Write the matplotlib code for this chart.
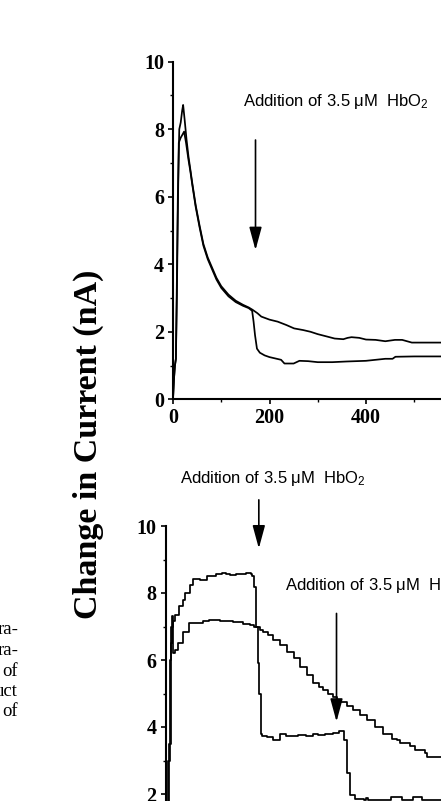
import matplotlib
matplotlib.use("Agg")
import matplotlib.pyplot as plt
from matplotlib.ticker import MultipleLocator

plt.rcParams["mathtext.fontset"] = "custom"
plt.rcParams["mathtext.rm"] = "Liberation Sans"
plt.rcParams["mathtext.it"] = "Liberation Sans:italic"

# ---- data (time in s, change in current in nA) ----
top_t1 = [0, 2, 4, 6, 8, 10, 13, 16, 19, 21, 24, 28, 32, 36, 40, 47, 55, 63, 72, 81,
          90, 100, 115, 130, 145, 157, 165, 175, 183, 200, 217, 235, 251, 270, 285, 300,
          319, 335, 353, 362, 370, 386, 400, 420, 440, 460, 475, 485, 495, 520, 560]
top_i1 = [0, 0.6, 1.0, 1.2, 3.5, 6.0, 8.0, 8.2, 8.55, 8.72, 8.3, 7.7, 7.2, 6.8, 6.4, 5.75, 5.15, 4.6, 4.2, 3.9,
          3.6, 3.35, 3.1, 2.92, 2.8, 2.72, 2.65, 2.55, 2.45, 2.36, 2.3, 2.2, 2.1, 2.05, 2.0, 1.93,
          1.86, 1.8, 1.78, 1.82, 1.84, 1.82, 1.77, 1.76, 1.72, 1.76, 1.76, 1.72, 1.68, 1.68, 1.68]

top_t2 = [0, 2, 4, 6, 8, 10, 12, 16, 20, 23, 27, 32, 36, 40, 47, 55, 63, 72, 81, 90,
          100, 115, 130, 145, 157, 164, 167, 170, 174, 180, 190, 200, 215, 224, 231, 250, 262, 280, 300, 330,
          360, 400, 440, 455, 461, 500, 560]
top_i2 = [0, 0.6, 1.0, 1.2, 3.0, 5.5, 7.6, 7.75, 7.85, 7.93, 7.6, 7.1, 6.75, 6.35, 5.7, 5.1, 4.55, 4.15, 3.85, 3.55,
          3.3, 3.05, 2.88, 2.77, 2.7, 2.62, 2.3, 1.9, 1.5, 1.38, 1.3, 1.25, 1.2, 1.17, 1.06, 1.06, 1.14, 1.13, 1.1, 1.1,
          1.12, 1.14, 1.2, 1.2, 1.26, 1.27, 1.27]

bot_t1 = [2, 4, 8, 12, 16, 20, 27, 35, 41, 50, 57, 71, 85, 92, 104, 116, 125, 134, 145, 155,
          166, 176, 179, 182, 187, 191, 194, 197, 200, 210, 222, 230, 236, 240, 250, 262, 275, 290, 305, 315,
          330, 347, 360, 366, 369, 375, 382, 392, 410, 416, 420, 440, 463, 466, 486, 489, 510, 513, 528, 531,
          580]
bot_i1 = [0, 3.0, 6.0, 7.0, 7.15, 7.35, 7.6, 7.8, 8.0, 8.25, 8.41, 8.39, 8.5, 8.51, 8.56, 8.61, 8.56, 8.54, 8.58, 8.57,
          8.6, 8.57, 8.5, 8.19, 6.99, 5.9, 5.0, 3.8, 3.74, 3.69, 3.6, 3.62, 3.8, 3.78, 3.74, 3.72, 3.76, 3.74, 3.78, 3.75,
          3.78, 3.83, 3.88, 3.88, 3.6, 2.62, 1.97, 1.84, 1.82, 1.87, 1.82, 1.81, 1.81, 1.9, 1.9, 1.81, 1.81, 1.9, 1.9, 1.81,
          1.81]

bot_t2 = [3, 6, 10, 13, 15, 20, 25, 35, 49, 77, 90, 112, 140, 160, 175, 182, 196, 202, 212, 223,
          237, 251, 265, 278, 292, 306, 317, 327, 337, 347, 354, 361, 375, 389, 403, 417, 434, 451, 468, 479,
          486, 507, 517, 537, 541, 580]
bot_i2 = [0, 3.5, 6.5, 7.3, 6.2, 6.3, 6.5, 6.85, 7.1, 7.15, 7.2, 7.17, 7.12, 7.08, 7.05, 7.0, 6.9, 6.85, 6.75, 6.6,
          6.45, 6.25, 6.05, 5.8, 5.55, 5.3, 5.2, 5.1, 5.0, 4.9, 4.82, 4.76, 4.62, 4.5, 4.35, 4.2, 4.0, 3.8, 3.65, 3.61,
          3.51, 3.43, 3.31, 3.23, 3.11, 3.1]

label_txt = "Addition of 3.5 \u03bcM  HbO$_2$"
caption_bits = ["ra-", "ra-", "of", "uct", "of"]

# ---- figure ----
W, H = 441, 801
fig = plt.figure(figsize=(W / 100, H / 100), dpi=100)

tick_font = dict(family="Liberation Serif", weight="bold", size=14.5)
note_font = dict(family="Liberation Sans", size=12)
PX_PER_S = 0.4825  # measured off the top time axis


def style_axis(ax, xmax):
    for s in ["top", "right"]:
        ax.spines[s].set_visible(False)
    for s in ["left", "bottom"]:
        ax.spines[s].set_linewidth(1.5)
    ax.set_ylim(0, 10)
    ax.set_xlim(0, xmax)
    ax.yaxis.set_major_locator(MultipleLocator(2))
    ax.yaxis.set_minor_locator(MultipleLocator(1))
    ax.xaxis.set_major_locator(MultipleLocator(200))
    ax.xaxis.set_minor_locator(MultipleLocator(100))
    ax.tick_params(which="major", direction="out", length=3.5, width=1.2, pad=3)
    ax.tick_params(which="minor", direction="out", length=2.2, width=1.0)
    for lb in ax.get_xticklabels() + ax.get_yticklabels():
        lb.set_fontfamily(tick_font["family"])
        lb.set_fontweight(tick_font["weight"])
        lb.set_fontsize(tick_font["size"])


def arrow(ax, x, y0, y1):
    ax.annotate("", xy=(x, y1), xytext=(x, y0), annotation_clip=False,
                arrowprops=dict(arrowstyle="-|>,head_length=1.4,head_width=0.38",
                                mutation_scale=10, lw=1.2, color="black",
                                shrinkA=0, shrinkB=0))


##### top panel #####
x0_top, xmax_top = 173, 560
ax1 = fig.add_axes([x0_top / W, 1 - 399.3 / H, PX_PER_S * xmax_top / W, 337.6 / H])
ax1.plot(top_t1, top_i1, color="black", lw=1.25)
ax1.plot(top_t2, top_i2, color="black", lw=1.25)
style_axis(ax1, xmax_top)
ax1.text(146, 8.70, label_txt, va="baseline", ha="left", **note_font)
arrow(ax1, 171, 7.68, 4.42)

##### bottom panel (runs off the bottom edge of the crop) #####
x0_bot, xmax_bot = 165.7, 580
ax2 = fig.add_axes([x0_bot / W, 1 - 861 / H, PX_PER_S * xmax_bot / W, 335 / H])
ax2.plot(bot_t1, bot_i1, color="black", lw=1.25, drawstyle="steps-post")
ax2.plot(bot_t2, bot_i2, color="black", lw=1.25, drawstyle="steps-post")
style_axis(ax2, xmax_bot)
ax2.tick_params(axis="x", labelbottom=False)  # time axis is below the crop
ax2.text(29.7, 11.27, label_txt, va="baseline", ha="left", clip_on=False, **note_font)
arrow(ax2, 193, 10.78, 9.33)
ax2.text(247, 8.09, label_txt, va="baseline", ha="left", **note_font)
arrow(ax2, 354, 7.39, 4.16)

##### shared y label #####
fig.text(88 / W, 1 - 444 / H, "Change in Current (nA)", rotation=90,
         ha="center", va="center", family="Liberation Serif", weight="bold", size=24.5)

##### caption fragments on the left #####
for k, s in enumerate(caption_bits):
    fig.text(18 / W, 1 - (630 + 20.5 * k) / H, s, ha="right", va="center",
             family="Liberation Serif", size=13.5)

fig.savefig("out.png", dpi=100)
